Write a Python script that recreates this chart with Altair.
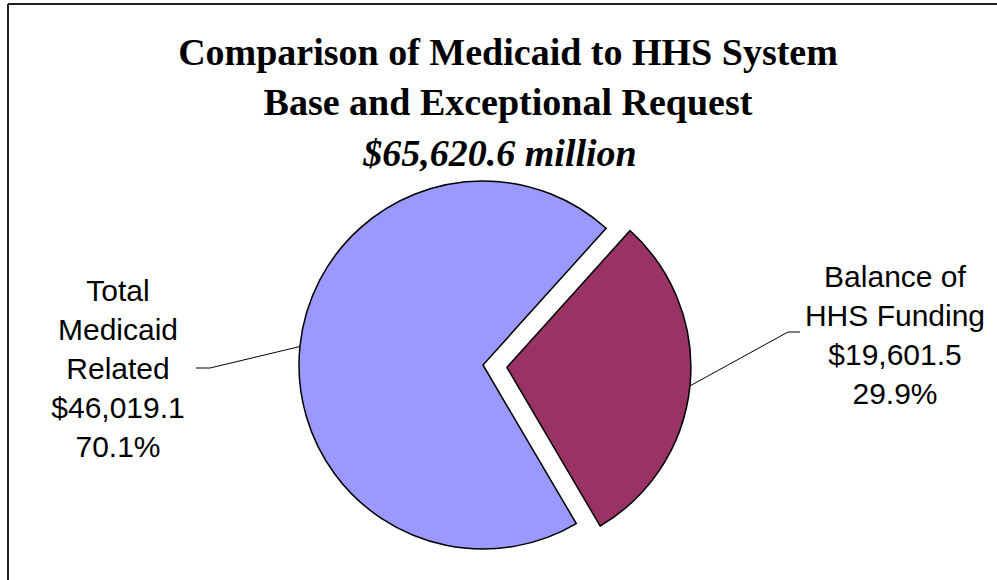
import math
import altair as alt
import pandas as pd

# ---- data ----
categories = ["Balance of HHS Funding", "Total Medicaid Related"]
values = [19601.5, 46019.1]
percents = [29.9, 70.1]
label_lines = [["Balance of", "HHS Funding"], ["Total", "Medicaid", "Related"]]
colors = ["#993366", "#9999FF"]
order_idx = [0, 1]
title_lines = ["Comparison of Medicaid to HHS System", "Base and Exceptional Request"]
subtitle = "$65,620.6 million"

df = pd.DataFrame({"category": categories, "value": values, "idx": order_idx})

# ---- layout ----
W, H = 997, 580
CX, CY, R = 483, 365, 184
START_DEG = 42.0
EXPLODE = 24
total = sum(values)

start = math.radians(START_DEG)
theta_enc = alt.Theta("value:Q", stack=True,
                      scale=alt.Scale(range=[start, start + 2 * math.pi]))
color_enc = alt.Color("category:N", scale=alt.Scale(domain=categories, range=colors), legend=None)

# slice mid angles computed from the data
mids = []
acc = 0.0
for v in values:
    a0 = START_DEG + 360 * acc / total
    acc += v
    a1 = START_DEG + 360 * acc / total
    mids.append(math.radians((a0 + a1) / 2))

dx = EXPLODE * math.sin(mids[0])
dy = -EXPLODE * math.cos(mids[0])

base = alt.Chart(df)

pie_main = base.mark_arc(radius=R, stroke="black", strokeWidth=1.5).encode(
    theta=theta_enc,
    color=color_enc,
    order=alt.Order("idx:Q"),
    opacity=alt.Opacity("category:N", scale=alt.Scale(domain=categories, range=[0, 1]), legend=None),
    x=alt.value(CX), y=alt.value(CY),
)
pie_expl = base.mark_arc(radius=R, stroke="black", strokeWidth=1.5).encode(
    theta=theta_enc,
    color=color_enc,
    order=alt.Order("idx:Q"),
    opacity=alt.Opacity("category:N", scale=alt.Scale(domain=categories, range=[1, 0]), legend=None),
    x=alt.value(CX + dx), y=alt.value(CY + dy),
)

# leader lines
def edge_point(i, cx, cy):
    return cx + R * math.sin(mids[i]), cy - R * math.cos(mids[i])

mx, my = edge_point(0, CX + dx, CY + dy)
bx, by = edge_point(1, CX, CY)

def seg(x1, y1, x2, y2):
    return alt.Chart(df.head(1)).mark_rule(color="black", strokeWidth=1).encode(
        x=alt.value(x1), y=alt.value(y1), x2=alt.value(x2), y2=alt.value(y2))

leaders = [
    seg(mx, my, 788, 332), seg(788, 332, 800, 332),
    seg(bx, by, 210, 368), seg(210, 368, 196, 368),
]

def label(lines, x, y):
    return alt.Chart(df.head(1)).mark_text(
        font="Liberation Sans", fontSize=30, lineHeight=39, align="center",
        baseline="alphabetic", color="black").encode(
        x=alt.value(x), y=alt.value(y), text=alt.value(lines))

lab_right = label(label_lines[0] + [f"${values[0]:,.1f}", f"{percents[0]:.1f}%"], 895, 287)
lab_left = label(label_lines[1] + [f"${values[1]:,.1f}", f"{percents[1]:.1f}%"], 118, 301)

def ttext(t, y, x=508, style="normal"):
    return alt.Chart(df.head(1)).mark_text(
        font="Liberation Serif", fontSize=38, fontWeight="bold", fontStyle=style,
        align="center", baseline="alphabetic", color="black").encode(
        x=alt.value(x), y=alt.value(y), text=alt.value(t))

titles = [ttext(title_lines[0], 65), ttext(title_lines[1], 115), ttext(subtitle, 166, 500, "italic")]

frame = [
    alt.Chart(df.head(1)).mark_rule(color="#222222", strokeWidth=2).encode(
        x=alt.value(8), x2=alt.value(W), y=alt.value(4), y2=alt.value(4)),
    alt.Chart(df.head(1)).mark_rule(color="#222222", strokeWidth=2).encode(
        x=alt.value(8), x2=alt.value(8), y=alt.value(4), y2=alt.value(H)),
]

chart = alt.layer(pie_main, pie_expl, *leaders, lab_left, lab_right, *titles, *frame).resolve_scale(
    opacity="independent"
).properties(
    width=W, height=H, padding=0, autosize="none", background="white"
).configure_view(stroke=None)

chart.save("out.html", embed_options={"renderer": "svg", "actions": False})
